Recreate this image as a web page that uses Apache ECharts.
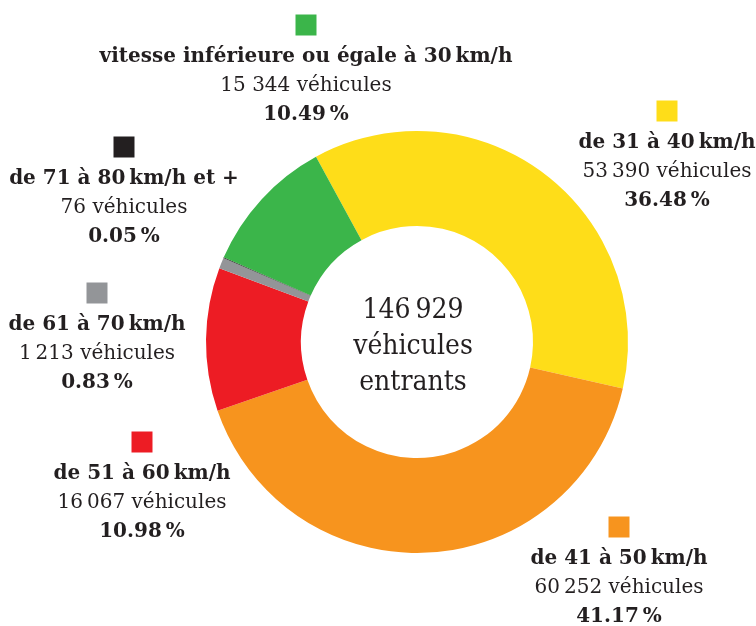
<!DOCTYPE html>
<html>
<head>
<meta charset="utf-8">
<script src="https://cdn.jsdelivr.net/npm/echarts@6/dist/echarts.min.js"></script>
<style>html,body{margin:0;padding:0;background:#fff}#c{width:756px;height:626px}</style>
</head>
<body>
<div id="c"></div>
<script>
// Data (clockwise order starting at top-left)
var categories = ['de 31 à 40\u202Fkm/h', 'de 41 à 50\u202Fkm/h', 'de 51 à 60\u202Fkm/h', 'de 61 à 70\u202Fkm/h', 'de 71 à 80\u202Fkm/h et +', 'vitesse inférieure ou égale à 30\u202Fkm/h'];
var vehicles = [53390, 60252, 16067, 1213, 76, 15344];
var vehicleLabels = ['53\u202F390', '60\u202F252', '16\u202F067', '1\u202F213', '76', '15 344'];
var percents = ['36.48', '41.17', '10.98', '0.83', '0.05', '10.49'];
var colors = ['#FEDD19', '#F7941E', '#ED1C24', '#939598', '#231F20', '#3BB54A'];
var totalLabel = '146\u202F929';

// label anchor positions (layout)
var labelPos = [[667, 94], [619, 510], [142, 425], [97, 276], [124, 130], [306, 8]];

var font = '"DejaVu Serif", serif';
var fontC = '"DejaVu Serif Condensed", "DejaVu Serif", serif';
var ink = '#231F20';

var chart = echarts.init(document.getElementById('c'), null, {renderer: 'canvas'});
chart.setOption({
  animation: false,
  graphic: [{
    type: 'text',
    x: 413, y: 347,
    style: {
      text: totalLabel + '\nvéhicules\nentrants',
      font: '28px ' + fontC,
      fill: ink,
      align: 'center',
      verticalAlign: 'middle',
      lineHeight: 36
    }
  }],
  series: [{
    type: 'pie',
    center: [417, 342],
    radius: [116, 211],
    startAngle: 118.6,
    clockwise: true,
    avoidLabelOverlap: false,
    labelLine: {show: false},
    itemStyle: {borderWidth: 0},
    emphasis: {disabled: true},
    data: categories.map(function (c, i) {
      return {
        name: c,
        value: vehicles[i],
        itemStyle: {color: colors[i]},
        label: {
          rich: {sq: {backgroundColor: colors[i], width: 21, height: 21, lineHeight: 34}}
        }
      };
    }),
    label: {
      show: true,
      position: 'outside',
      color: ink,
      fontFamily: font,
      align: 'center',
      formatter: function (p) {
        var i = p.dataIndex;
        return '{sq|}\n{t|' + categories[i] + '}\n{n|' + vehicleLabels[i] + ' véhicules}\n{p|' + percents[i] + '\u202F%}';
      },
      rich: {
        t: {fontFamily: font, fontWeight: 'bold', fontSize: 20, lineHeight: 29, color: ink, align: 'center'},
        n: {fontFamily: font, fontSize: 20, lineHeight: 29, color: ink, align: 'center'},
        p: {fontFamily: font, fontWeight: 'bold', fontSize: 20, lineHeight: 29, color: ink, align: 'center'}
      }
    },
    labelLayout: function (params) {
      var pos = labelPos[params.dataIndex];
      return {x: pos[0], y: pos[1], align: 'center', verticalAlign: 'top'};
    }
  }]
});
</script>
</body>
</html>
